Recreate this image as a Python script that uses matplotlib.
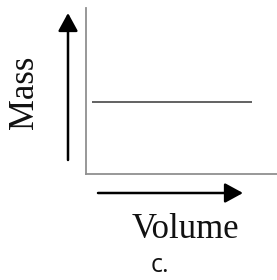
import matplotlib
matplotlib.use("Agg")
import matplotlib.pyplot as plt

# data: mass stays constant as volume grows
volume = [0.03, 0.87]
mass = [0.434, 0.434]
x_label = "Volume"
y_label = "Mass"
panel_label = "c."

fig = plt.figure(figsize=(2.77, 2.80), dpi=100)
ax = fig.add_axes([0.310, 0.379, 0.690, 0.593])

ax.plot(volume, mass, color="#555555", lw=1.3, solid_capstyle="butt")
ax.set_xlim(0, 1)
ax.set_ylim(0, 1)

for side in ["top", "right"]:
    ax.spines[side].set_visible(False)
for side in ["left", "bottom"]:
    ax.spines[side].set_color("#909090")
    ax.spines[side].set_linewidth(1.3)
ax.set_xticks([])
ax.set_yticks([])

#direction arrows beside the axes
arrow = dict(arrowstyle="-|>,head_length=0.55,head_width=0.3", color="black",
             lw=1.8, mutation_scale=20, shrinkA=0, shrinkB=0)
ax.annotate("", xy=(68 / 277, 1 - 13 / 280), xytext=(68 / 277, 1 - 160 / 280),
            xycoords="figure fraction", arrowprops=arrow)
ax.annotate("", xy=(243 / 277, 1 - 193 / 280), xytext=(98 / 277, 1 - 193 / 280),
            xycoords="figure fraction", arrowprops=arrow)

fig.text(25 / 277, 1 - 92 / 280, y_label, rotation=90, ha="center", va="center",
         fontsize=25, family="Liberation Serif", color="#111111")
fig.text(185 / 277, 1 - 229 / 280, x_label, ha="center", va="center",
         fontsize=25, family="Liberation Serif", color="#111111")
fig.text(160 / 277, 1 - 265 / 280, panel_label, ha="center", va="center",
         fontsize=18, family="Open Sans", color="#111111")

fig.savefig("out.png", dpi=100)
